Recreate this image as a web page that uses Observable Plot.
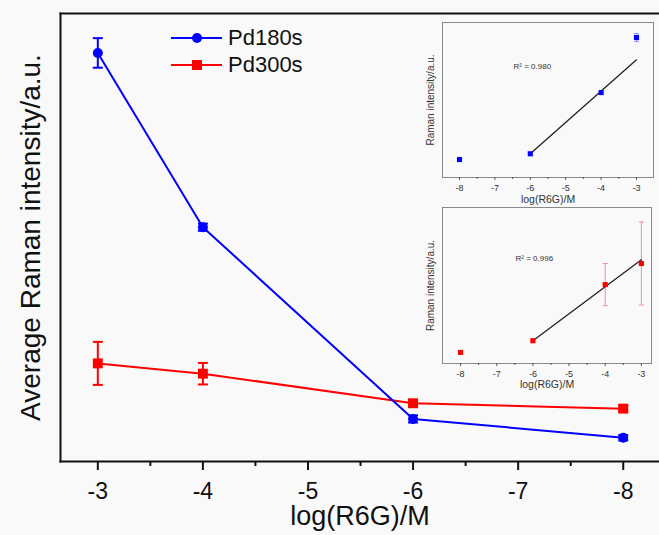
<!DOCTYPE html>
<html><head><meta charset="utf-8">
<script src="https://cdn.jsdelivr.net/npm/d3@7"></script>
<script src="https://cdn.jsdelivr.net/npm/@observablehq/plot@0.6"></script>
<style>
html,body{margin:0;padding:0;background:#f9f9f9;}
#wrap{position:relative;width:659px;height:535px;overflow:hidden;background:#f9f9f9;font-family:"Liberation Sans",Arial,sans-serif;}
.abs{position:absolute;}
</style></head><body><div id="wrap"></div>
<script>
// ---- main chart data ----
const concentrations = [-3, -4, -6, -8];
const pd180Mean = [91.2, 52.3, 9.5, 5.3];
const pd180Err  = [3.3, 0.8, 0.8, 0.6];
const pd300Mean = [21.9, 19.6, 13.0, 11.8];
const pd300Err  = [4.8, 2.4, 0.6, 0.6];
const seriesNames = ["Pd180s", "Pd300s"];
const seriesColors = ["#0000ff", "#ff0000"];
const majorTicks = [-3, -4, -5, -6, -7, -8];
const minorTicks = [-3.5, -4.5, -5.5, -6.5, -7.5];
const xLabel = "log(R6G)/M";
const yLabel = "Average Raman intensity/a.u.";

// ---- inset data ----
const insetX = [-8, -6, -4, -3];
const inset180 = [11.6, 15.3, 54.8, 90.3];
const inset180Err = [0, 0, 0, 2.6];
const inset300 = [7.1, 14.6, 50.6, 64.1];
const inset300Err = [0, 0, 13.5, 26.6];
const fitX = [-6, -3];
const fit180 = [15.3, 75.9];
const fit300 = [14.6, 66.5];
const insetTicks = [-8, -7, -6, -5, -4, -3];
const insetMinor = [-7.5, -6.5, -5.5, -4.5, -3.5];
const insetXLabel = "log(R6G)/M";
const insetYLabel = "Raman intensity/a.u.";
const r2Labels = ["R² = 0.980", "R² = 0.996"];

const FONT = "'Liberation Sans', Arial, sans-serif";
const capSymbol = {draw(ctx, size) { const w = Math.sqrt(size / Math.PI); ctx.moveTo(-w, 0); ctx.lineTo(w, 0); }};
const rowsOf = (xs, ys, es) => xs.map((x, i) => ({x, y: ys[i], lo: ys[i] - es[i], hi: ys[i] + es[i]}));

const rows180 = rowsOf(concentrations, pd180Mean, pd180Err);
const rows300 = rowsOf(concentrations, pd300Mean, pd300Err);

function seriesMarks(rows, color, symbol, r) {
  return [
    Plot.line(rows, {x: "x", y: "y", stroke: color, strokeWidth: 2}),
    Plot.ruleX(rows, {x: "x", y1: "lo", y2: "hi", stroke: color, strokeWidth: 2}),
    Plot.dot(rows, {x: "x", y: "hi", symbol: capSymbol, r: 5, stroke: color, strokeWidth: 2}),
    Plot.dot(rows, {x: "x", y: "lo", symbol: capSymbol, r: 5, stroke: color, strokeWidth: 2}),
    Plot.dot(rows, {x: "x", y: "y", symbol, r, fill: color, stroke: "none"})
  ];
}

const main = Plot.plot({
  width: 659, height: 535,
  marginLeft: 60, marginRight: 0, marginTop: 13, marginBottom: 74,
  style: {background: "#f9f9f9", fontFamily: FONT, color: "#111"},
  x: {domain: [-2.645, -8.345], axis: null},
  y: {domain: [0, 100], axis: null},
  marks: [
    Plot.frame({anchor: "top", stroke: "#111", strokeWidth: 2}),
    Plot.frame({anchor: "left", stroke: "#111", strokeWidth: 2}),
    Plot.frame({anchor: "bottom", stroke: "#111", strokeWidth: 2}),
    Plot.axisX(majorTicks, {tickSize: 9, tickPadding: 12, fontSize: 23, strokeWidth: 2, stroke: "#111", fill: "#111", tickFormat: d => `${d}`, label: null}),
    Plot.axisX(minorTicks, {tickSize: 5, strokeWidth: 2, stroke: "#111", tickFormat: () => "", label: null}),
    Plot.text([xLabel], {frameAnchor: "bottom", dy: 55, fontSize: 27, fill: "#111", textAnchor: "middle", lineAnchor: "middle"}),
    Plot.text([yLabel], {frameAnchor: "left", rotate: -90, dx: -29, fontSize: 28, fill: "#111", textAnchor: "middle", lineAnchor: "middle"}),
    ...seriesMarks(rows300, seriesColors[1], "square", 5.6),
    ...seriesMarks(rows180, seriesColors[0], "circle", 5)
  ]
});
const wrap = document.getElementById("wrap");
main.style.position = "absolute"; main.style.left = "0px"; main.style.top = "0px";
wrap.append(main);

// ---- legend ----
const legend = document.createElement("div");
legend.className = "abs";
legend.style.left = "168px"; legend.style.top = "24px";
legend.innerHTML = seriesNames.map((name, i) => {
  const c = seriesColors[i];
  const sym = i === 0 ? `<circle cx="29" cy="13" r="5" fill="${c}"/>` : `<rect x="24" y="8" width="10" height="10" fill="${c}"/>`;
  return `<div style="display:flex;align-items:center;height:27px;">
    <svg width="58" height="26" style="display:block"><line x1="3" x2="54" y1="13" y2="13" stroke="${c}" stroke-width="2"/>${sym}</svg>
    <span style="font-size:22px;color:#111;margin-left:2px;line-height:26px;">${name}</span></div>`;
}).join("");
wrap.append(legend);

// ---- insets ----
function inset({left, top, width, height, margins, domain, ys, errs, fitY, color, errColor, r2, r2dx, r2dy, xdy}) {
  const rows = rowsOf(insetX, ys, errs);
  const errRows = rows.filter(d => d.hi > d.lo);
  const fitRows = fitX.map((x, i) => ({x, y: fitY[i]}));
  const p = Plot.plot({
    width, height,
    marginLeft: margins[0], marginRight: margins[1], marginTop: margins[2], marginBottom: margins[3],
    style: {background: "transparent", fontFamily: FONT},
    x: {domain, axis: null},
    y: {domain: [0, 100], axis: null},
    marks: [
      Plot.frame({stroke: "#8a8a8a", strokeWidth: 1}),
      Plot.axisX(insetTicks, {tickSize: 3, tickPadding: 4, fontSize: 9, stroke: "#555", fill: "#333", tickFormat: d => `${d}`, label: null}),
      Plot.axisX(insetMinor, {tickSize: 2, stroke: "#555", tickFormat: () => "", label: null}),
      Plot.text([insetXLabel], {frameAnchor: "bottom", dy: xdy, fontSize: 10.5, fill: "#333", textAnchor: "middle", lineAnchor: "middle"}),
      Plot.text([insetYLabel], {frameAnchor: "left", rotate: -90, dx: -11.5, fontSize: 10, fill: "#333", textAnchor: "middle", lineAnchor: "middle"}),
      Plot.ruleX(errRows, {x: "x", y1: "lo", y2: "hi", stroke: errColor, strokeWidth: 1}),
      Plot.dot(errRows, {x: "x", y: "hi", symbol: capSymbol, r: 2.5, stroke: errColor, strokeWidth: 1}),
      Plot.dot(errRows, {x: "x", y: "lo", symbol: capSymbol, r: 2.5, stroke: errColor, strokeWidth: 1}),
      Plot.line(fitRows, {x: "x", y: "y", stroke: "#222", strokeWidth: 1.3}),
      Plot.dot(rows, {x: "x", y: "y", symbol: "square", r: 2.9, fill: color, stroke: "none"}),
      Plot.text([r2], {frameAnchor: "top-left", dx: r2dx, dy: r2dy, fontSize: 8, fill: "#333", textAnchor: "start", lineAnchor: "middle"})
    ]
  });
  p.classList.add("abs");
  p.style.left = left + "px"; p.style.top = top + "px";
  wrap.append(p);
}

inset({left: 412, top: 15, width: 245, height: 192, margins: [30, 4, 7, 30],
  domain: [-8.48, -2.52], ys: inset180, errs: inset180Err, fitY: fit180,
  color: seriesColors[0], errColor: "#8f8fff", r2: r2Labels[0], r2dx: 71, r2dy: 44, xdy: 22});
inset({left: 412, top: 200, width: 245, height: 190, margins: [30, 6, 7, 27],
  domain: [-8.5, -2.72], ys: inset300, errs: inset300Err, fitY: fit300,
  color: seriesColors[1], errColor: "#f59090", r2: r2Labels[1], r2dx: 73, r2dy: 51, xdy: 21});
</script>
</body></html>
